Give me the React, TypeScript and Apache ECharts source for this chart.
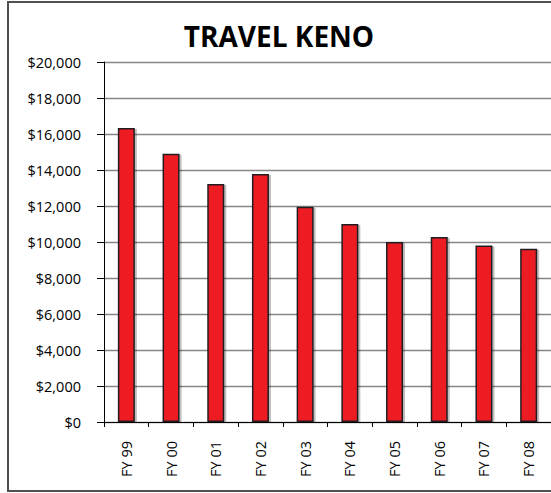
import React, { useEffect, useRef } from "react";
import * as echarts from "echarts";

const categories = ["FY 99", "FY 00", "FY 01", "FY 02", "FY 03", "FY 04", "FY 05", "FY 06", "FY 07", "FY 08"];
const values = [16330, 14900, 13220, 13780, 11960, 11000, 10000, 10280, 9800, 9630];
const chartTitle = "TRAVEL KENO";

export default function App() {
  const ref = useRef<HTMLDivElement>(null);
  useEffect(() => {
    if (!ref.current) return;
    const chart = echarts.init(ref.current, undefined, { renderer: "svg" });
    chart.setOption({
      animation: false,
      backgroundColor: "#ffffff",
      title: {
        text: chartTitle,
        left: 274,
        textAlign: "center",
        top: 17,
        textStyle: { fontFamily: "Open Sans", fontWeight: "bold", fontSize: 28, color: "#000" },
      },
      graphic: [
        {
          type: "rect",
          shape: { x: 8, y: 2, width: 560, height: 489 },
          style: { fill: "none", stroke: "#505050", lineWidth: 2 },
          z: 100,
          silent: true,
        },
      ],
      grid: { left: 104, top: 62, width: 447.5, bottom: 71, containLabel: false },
      xAxis: {
        type: "category",
        data: categories,
        axisLine: { lineStyle: { color: "#000", width: 1 } },
        axisTick: { show: true, length: 5, lineStyle: { color: "#000" } },
        axisLabel: {
          rotate: 90,
          margin: 19,
          fontFamily: "Open Sans",
          fontSize: 14.5,
          color: "#000",
        },
      },
      yAxis: {
        type: "value",
        min: 0,
        max: 20000,
        interval: 2000,
        axisLine: { show: true, lineStyle: { color: "#000", width: 1 } },
        axisTick: { show: true, length: 7, lineStyle: { color: "#000" } },
        splitLine: { lineStyle: { color: "#868686", width: 1.3 } },
        axisLabel: {
          margin: 23,
          fontFamily: "Open Sans",
          fontSize: 14.5,
          color: "#000",
          formatter: (v: number) => "$" + v.toLocaleString("en-US"),
        },
      },
      series: [
        {
          type: "bar",
          data: values,
          barWidth: 17,
          itemStyle: {
            color: "#ED1C24",
            borderColor: "#231F20",
            borderWidth: 1.5,
            shadowColor: "rgba(0,0,0,0.25)",
            shadowOffsetX: 2,
            shadowOffsetY: 1,
            shadowBlur: 1,
          },
        },
      ],
    });
    return () => chart.dispose();
  }, []);
  return <div ref={ref} style={{ position: "absolute", left: 0, top: 0, width: 551, height: 493 }} />;
}
